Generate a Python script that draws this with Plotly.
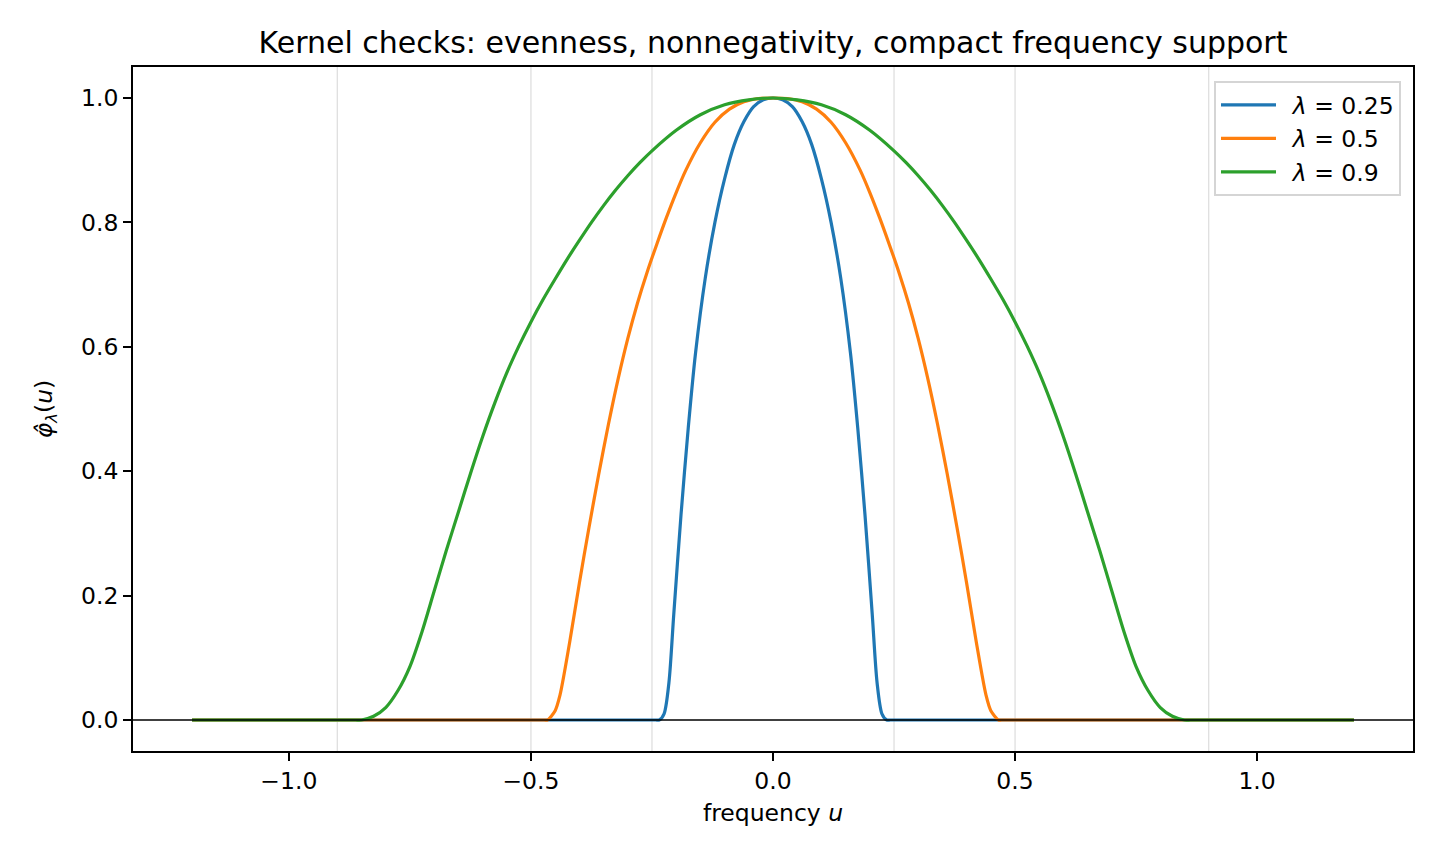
import plotly.graph_objects as go

# ---- data ----
u_blue = [-1.2, -0.6, -0.3, -0.25, -0.242, -0.235, -0.225, -0.215, -0.205, -0.19, -0.175, -0.16, -0.14, -0.12, -0.10,
          -0.08, -0.06, -0.04, -0.02, 0.0,
          0.02, 0.04, 0.06, 0.08, 0.10, 0.12, 0.14, 0.16, 0.175, 0.19, 0.205, 0.215, 0.225, 0.235, 0.242, 0.25, 0.3,
          0.6, 1.2]
y_blue = [0.0, 0.0, 0.0, 0.0, 0.0, 0.0, 0.01, 0.06, 0.17, 0.33, 0.47, 0.59, 0.71, 0.80, 0.87,
          0.925, 0.962, 0.986, 0.997, 1.0,
          0.997, 0.986, 0.962, 0.925, 0.87, 0.80, 0.71, 0.59, 0.47, 0.33, 0.17, 0.06, 0.01, 0.0, 0.0, 0.0, 0.0,
          0.0, 0.0]

u_orange = [-1.2, -0.9, -0.6, -0.5, -0.48, -0.472, -0.466, -0.45, -0.44, -0.42, -0.40, -0.38, -0.36, -0.34, -0.32,
            -0.30, -0.28, -0.26, -0.24, -0.22, -0.20, -0.18, -0.15, -0.12, -0.09, -0.06, -0.03, 0.0,
            0.03, 0.06, 0.09, 0.12, 0.15, 0.18, 0.20, 0.22, 0.24, 0.26, 0.28, 0.30, 0.32, 0.34, 0.36, 0.38, 0.40,
            0.42, 0.44, 0.45, 0.466, 0.472, 0.48, 0.5, 0.6, 0.9, 1.2]
y_orange = [0.0, 0.0, 0.0, 0.0, 0.0, 0.0, 0.0, 0.015, 0.04, 0.125, 0.22, 0.31, 0.395, 0.475, 0.548,
            0.613, 0.670, 0.720, 0.765, 0.808, 0.848, 0.884, 0.928, 0.961, 0.982, 0.994, 0.999, 1.0,
            0.999, 0.994, 0.982, 0.961, 0.928, 0.884, 0.848, 0.808, 0.765, 0.720, 0.670, 0.613, 0.548, 0.475, 0.395,
            0.31, 0.22, 0.125, 0.04, 0.015, 0.0, 0.0, 0.0, 0.0, 0.0, 0.0, 0.0]

u_green = [-1.2, -1.05, -0.95, -0.9, -0.875, -0.862, -0.85, -0.825, -0.80, -0.775, -0.75, -0.725, -0.70, -0.675,
           -0.65, -0.625, -0.60, -0.575, -0.55, -0.525, -0.50, -0.475, -0.45, -0.425, -0.40, -0.375, -0.35,
           -0.325, -0.30, -0.275, -0.25, -0.20, -0.15, -0.10, -0.05, 0.0,
           0.05, 0.10, 0.15, 0.20, 0.25, 0.275, 0.30, 0.325, 0.35, 0.375, 0.40, 0.425, 0.45, 0.475, 0.50, 0.525,
           0.55, 0.575, 0.60, 0.625, 0.65, 0.675, 0.70, 0.725, 0.75, 0.775, 0.80, 0.825, 0.85, 0.862, 0.875, 0.9,
           0.95, 1.05, 1.2]
y_green = [0.0, 0.0, 0.0, 0.0, 0.0, 0.0, 0.0, 0.006, 0.020, 0.047, 0.086, 0.142, 0.207, 0.272,
           0.334, 0.396, 0.455, 0.509, 0.558, 0.601, 0.640, 0.676, 0.709, 0.741, 0.771, 0.800, 0.827,
           0.852, 0.875, 0.896, 0.915, 0.948, 0.973, 0.989, 0.997, 1.0,
           0.997, 0.989, 0.973, 0.948, 0.915, 0.896, 0.875, 0.852, 0.827, 0.800, 0.771, 0.741, 0.709, 0.676, 0.640,
           0.601, 0.558, 0.509, 0.455, 0.396, 0.334, 0.272, 0.207, 0.142, 0.086, 0.047, 0.020, 0.006, 0.0, 0.0,
           0.0, 0.0, 0.0, 0.0, 0.0]

series_names = ["<i>λ</i> = 0.25", "<i>λ</i> = 0.5", "<i>λ</i> = 0.9"]
lambdas = [0.25, 0.5, 0.9]
colors = ["#1f77b4", "#ff7f0e", "#2ca02c"]

x_tickvals = [-1.0, -0.5, 0.0, 0.5, 1.0]
x_ticktext = ["−1.0", "−0.5", "0.0", "0.5", "1.0"]
y_tickvals = [0.0, 0.2, 0.4, 0.6, 0.8, 1.0]
y_ticktext = ["0.0", "0.2", "0.4", "0.6", "0.8", "1.0"]

FONT = "DejaVu Sans"
FS = 23.5

fig = go.Figure()

# light vertical guides at ±lambda
for lam in lambdas:
    for s in (-1, 1):
        fig.add_vline(x=s * lam, line=dict(color="rgba(0,0,0,0.13)", width=1.3), layer="below")

# zero line
fig.add_hline(y=0, line=dict(color="black", width=1.7))

for xs, ys, name, col in zip([u_blue, u_orange, u_green], [y_blue, y_orange, y_green], series_names, colors):
    fig.add_trace(go.Scatter(x=xs, y=ys, mode="lines", name="\u2002" + name,
                             line=dict(color=col, width=3.2, shape="spline", smoothing=0.8, simplify=False)))

fig.update_layout(
    width=1440, height=864,
    margin=dict(l=133, r=27, t=67, b=113),
    paper_bgcolor="white", plot_bgcolor="white",
    font=dict(family=FONT, size=FS, color="black"),
    title=dict(text="Kernel checks: evenness, nonnegativity, compact frequency support",
               x=(773 / 1440), xanchor="center", y=1 - 42 / 864, yanchor="middle",
               font=dict(family=FONT, size=30, color="black")),
    legend=dict(x=(1401 - 133) / 1280, y=(751 - 81) / 684, xanchor="right", yanchor="top",
                bgcolor="rgba(255,255,255,0.8)", bordercolor="#d5d5d5", borderwidth=2,
                itemwidth=55, font=dict(family=FONT, size=FS)),
    showlegend=True,
)

fig.update_xaxes(range=[-1.322, 1.322], tickvals=x_tickvals, ticktext=x_ticktext,
                 showgrid=False, zeroline=False, showline=True, linecolor="black", linewidth=1.9,
                 mirror=True, ticks="outside", ticklen=8, tickwidth=1.9, tickcolor="black",
                 tickfont=dict(family=FONT, size=FS),
                 title=dict(text="frequency <i>u</i>", font=dict(family=FONT, size=FS), standoff=10))
fig.update_yaxes(range=[-0.0498, 1.0498], tickvals=y_tickvals, ticktext=y_ticktext,
                 showgrid=False, zeroline=False, showline=True, linecolor="black", linewidth=1.9,
                 mirror=True, ticks="outside", ticklen=8, tickwidth=1.9, tickcolor="black",
                 tickfont=dict(family=FONT, size=FS),
                 title=dict(text="<i>φ̂</i><sub><i>λ</i></sub>(<i>u</i>)", font=dict(family=FONT, size=FS), standoff=22))

fig.write_html("out.html")
